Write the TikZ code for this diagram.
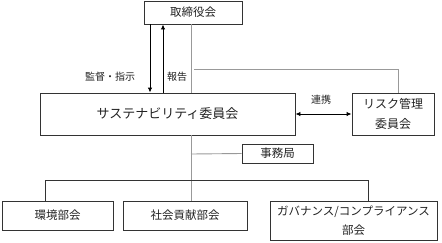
\documentclass[tikz,border=0pt]{standalone}
\usepackage{fontspec}
\setmainfont{Noto Sans CJK JP}
\usetikzlibrary{arrows.meta}
\definecolor{boxline}{HTML}{333333}
\definecolor{grayline}{HTML}{999999}
\definecolor{txt}{HTML}{222222}
\tikzset{
  orgbox/.style={draw=boxline, line width=0.9pt, inner sep=0pt, align=center, text=txt, font=\fontsize{11.5}{19}\selectfont},
  lbl/.style={text=txt, font=\fontsize{10}{12}\selectfont, inner sep=0pt},
  grayconn/.style={draw=grayline, line width=0.9pt},
  darkconn/.style={draw=boxline, line width=0.8pt},
  arr/.style={draw=black, line width=0.9pt, -{Latex[length=5pt,width=4.5pt]}},
  dblarr/.style={draw=black, line width=0.9pt, {Latex[length=5pt,width=4.5pt]}-{Latex[length=5pt,width=4.5pt]}}
}
\begin{document}
\begin{tikzpicture}[x=1pt,y=-1pt]
\useasboundingbox (0,0) rectangle (442,242);
% nodes
\node[orgbox, minimum width=98pt, minimum height=23pt] (board) at (193,12.5) {取締役会};
\node[orgbox, minimum width=255pt, minimum height=42pt, font=\fontsize{13}{16}\selectfont] (sust) at (167.5,114) {サステナビリティ委員会};
\node[orgbox, minimum width=82pt, minimum height=42pt, font=\fontsize{12}{20}\selectfont] (risk) at (393,114) {リスク管理\\委員会};
\node[orgbox, minimum width=71pt, minimum height=19pt] (jimu) at (277.5,153.5) {事務局};
\node[orgbox, minimum width=111pt, minimum height=29pt] (env) at (57.5,215.5) {環境部会};
\node[orgbox, minimum width=124pt, minimum height=29pt] (soc) at (185,215.5) {社会貢献部会};
\node[orgbox, minimum width=167pt, minimum height=39pt] (gov) at (353.5,220.5) {ガバナンス/コンプライアンス\\部会};
% labels
\node[lbl] (l1) at (110,77) {監督・指示};
\node[lbl] (l2) at (177,77) {報告};
\node[lbl] (l3) at (321,100) {連携};
% helper coordinates
\coordinate (xa) at (150,0);
\coordinate (xb) at (163,0);
\coordinate (xc) at (191,0);
\coordinate (hs) at (194,69);
\coordinate (he) at (398,69);
\coordinate (jy) at (0,154);
\coordinate (by) at (0,180);
\coordinate (xl) at (45,0);
\coordinate (xr) at (368,0);
% connectors
\draw[arr] (board.south -| xa) -- (sust.north -| xa);
\draw[arr] (sust.north -| xb) -- (board.south -| xb);
\draw[grayconn] (board.south -| xc) -- (sust.north -| xc);
\draw[grayconn] (hs) -- (he) -- (risk.north -| he);
\draw[dblarr] (sust.east) -- (risk.west);
\draw[grayconn] (sust.south -| xc) -- (soc.north -| xc);
\draw[grayconn] (jy -| xc) -- (jimu.west);
\draw[darkconn] (env.north -| xl) -- (by -| xl) -- (by -| xr) -- (gov.north -| xr);
\end{tikzpicture}
\end{document}
